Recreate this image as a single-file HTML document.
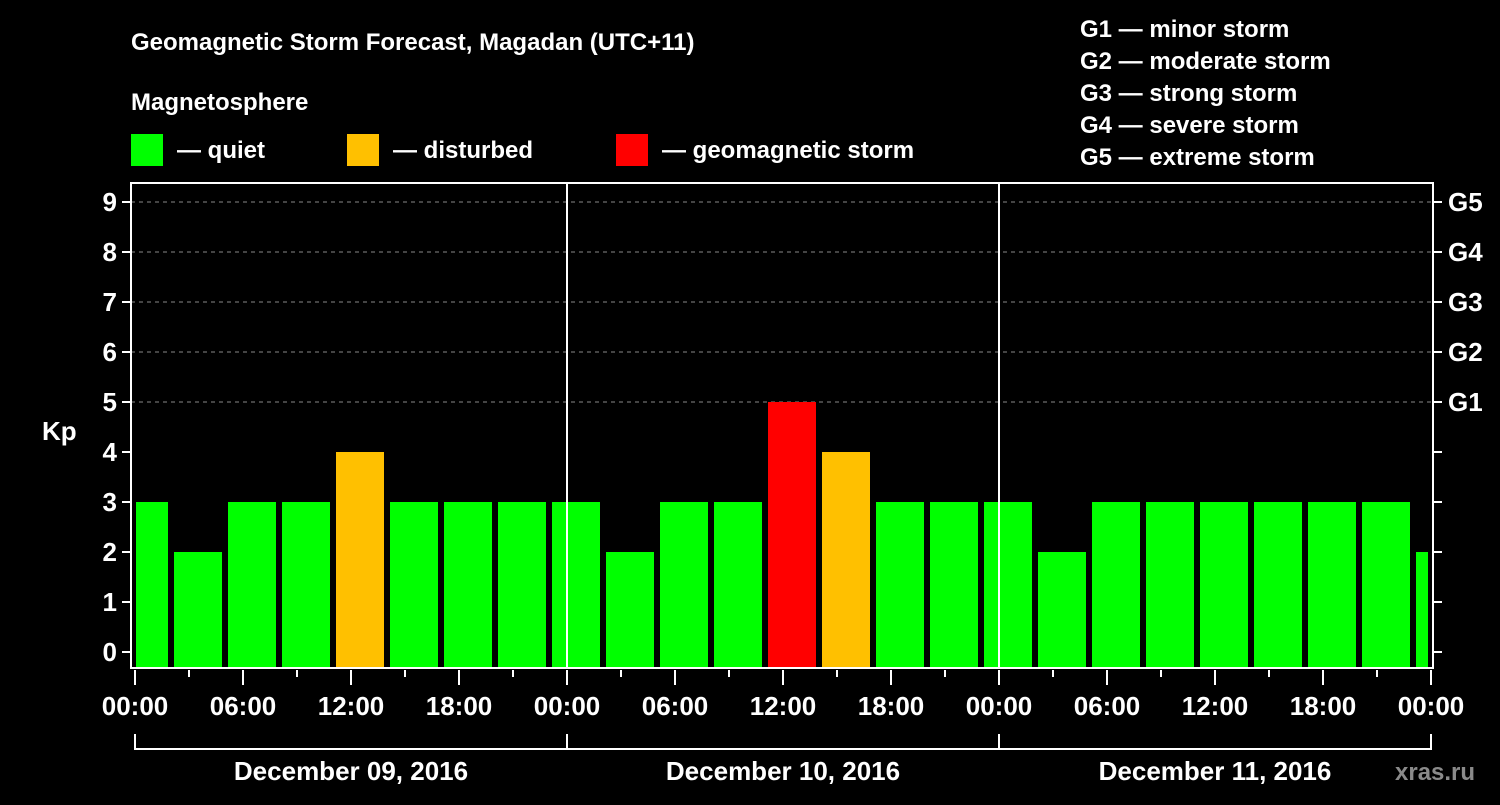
<!DOCTYPE html>
<html><head><meta charset="utf-8"><style>
body{margin:0;background:#000;width:1500px;height:800px;overflow:hidden;font-family:"Liberation Sans",Arial,sans-serif;font-weight:bold;color:#fff}
svg text{font-family:"Liberation Sans",Arial,sans-serif;font-weight:bold;fill:#fff}
</style></head><body>
<svg id="chart" width="1500" height="800" xmlns="http://www.w3.org/2000/svg">
<text x="131" y="50" font-size="24">Geomagnetic Storm Forecast, Magadan (UTC+11)</text>
<text x="131" y="110" font-size="24">Magnetosphere</text>
<g><rect x="131" y="134" width="32" height="32" fill="#00ff00"/><text x="177" y="158" font-size="24">— quiet</text></g>
<g><rect x="347" y="134" width="32" height="32" fill="#ffc000"/><text x="393" y="158" font-size="24">— disturbed</text></g>
<g><rect x="616" y="134" width="32" height="32" fill="#ff0000"/><text x="662" y="158" font-size="24">— geomagnetic storm</text></g>
<g font-size="24">
<text x="1080" y="37">G1 — minor storm</text>
<text x="1080" y="69">G2 — moderate storm</text>
<text x="1080" y="101">G3 — strong storm</text>
<text x="1080" y="133">G4 — severe storm</text>
<text x="1080" y="165">G5 — extreme storm</text>
</g>
<text x="42" y="440" font-size="26">Kp</text>
<g id="grid"></g><g id="bars"></g><g id="axes"></g>
<text x="1395" y="780" font-size="24" fill="#888" style="fill:#8a8a8a">xras.ru</text>
</svg>
<script>
const kpValues=[3,2,3,3,4,3,3,3, 3,2,3,3,5,4,3,3, 3,2,3,3,3,3,3,3, 2];
const yTicks=[0,1,2,3,4,5,6,7,8,9];
const gLabels=["G1","G2","G3","G4","G5"];
const gLevels=[5,6,7,8,9];
const xTickLabels=["00:00","06:00","12:00","18:00","00:00","06:00","12:00","18:00","00:00","06:00","12:00","18:00","00:00"];
const dayLabels=["December 09, 2016","December 10, 2016","December 11, 2016"];
const NS="http://www.w3.org/2000/svg";
const L=131,R=1433,T=183,B=668,X0=135,HOUR=18;
const y=v=>652-v*50, x=h=>X0+h*HOUR;
function mk(t,a,p){const e=document.createElementNS(NS,t);for(const k in a)e.setAttribute(k,a[k]);p.appendChild(e);return e;}
const grid=document.getElementById('grid'),bars=document.getElementById('bars'),axes=document.getElementById('axes');
mk('rect',{x:L,y:T,width:R-L,height:B-T,fill:'#000'},grid);
gLevels.forEach(v=>{const l=mk('line',{x1:L,x2:R,y1:y(v),y2:y(v),stroke:'#888','stroke-dasharray':'4,4','stroke-width':1},grid);

});
const clip=mk('clipPath',{id:'pc'},grid);mk('rect',{x:L+5,y:T,width:R-L-10,height:B-T},clip);
bars.setAttribute('clip-path','url(#pc)');
kpValues.forEach((v,i)=>{const c=v>=5?'#ff0000':v>=4?'#ffc000':'#00ff00';
const r=mk('rect',{x:x(i*3)-15,y:y(v),width:48,height:B-y(v),fill:c},bars);

});
[1,2].forEach(d=>{const l=mk('line',{x1:x(d*24),x2:x(d*24),y1:T,y2:B,stroke:'#fff','stroke-width':2},axes);

});
const f=mk('rect',{x:L,y:T,width:R-L,height:B-T,fill:'none',stroke:'#fff','stroke-width':2},axes);


yTicks.forEach(v=>{mk('line',{x1:L-9,x2:L,y1:y(v),y2:y(v),stroke:'#fff','stroke-width':2},axes);
mk('line',{x1:R,x2:R+9,y1:y(v),y2:y(v),stroke:'#fff','stroke-width':2},axes);
const t=mk('text',{x:L-14,y:y(v)+9,'font-size':26,'text-anchor':'end'},axes);t.textContent=v;

});
gLabels.forEach((g,i)=>{const t=mk('text',{x:1448,y:y(gLevels[i])+9,'font-size':26},axes);t.textContent=g;

});
for(let h=0;h<=72;h+=3){const maj=h%6===0;mk('line',{x1:x(h),x2:x(h),y1:B+2,y2:B+(maj?17:9),stroke:'#fff','stroke-width':2},axes);}
xTickLabels.forEach((s,i)=>{const t=mk('text',{x:x(i*6),y:715,'font-size':26,'text-anchor':'middle'},axes);t.textContent=s;

});
mk('line',{x1:x(0),x2:x(72),y1:749,y2:749,stroke:'#fff','stroke-width':2},axes);
for(let d=0;d<=3;d++)mk('line',{x1:x(d*24),x2:x(d*24),y1:734,y2:750,stroke:'#fff','stroke-width':2},axes);
dayLabels.forEach((s,i)=>{const t=mk('text',{x:x(i*24+12),y:780,'font-size':26,'text-anchor':'middle'},axes);t.textContent=s;

});
</script>
</body></html>
